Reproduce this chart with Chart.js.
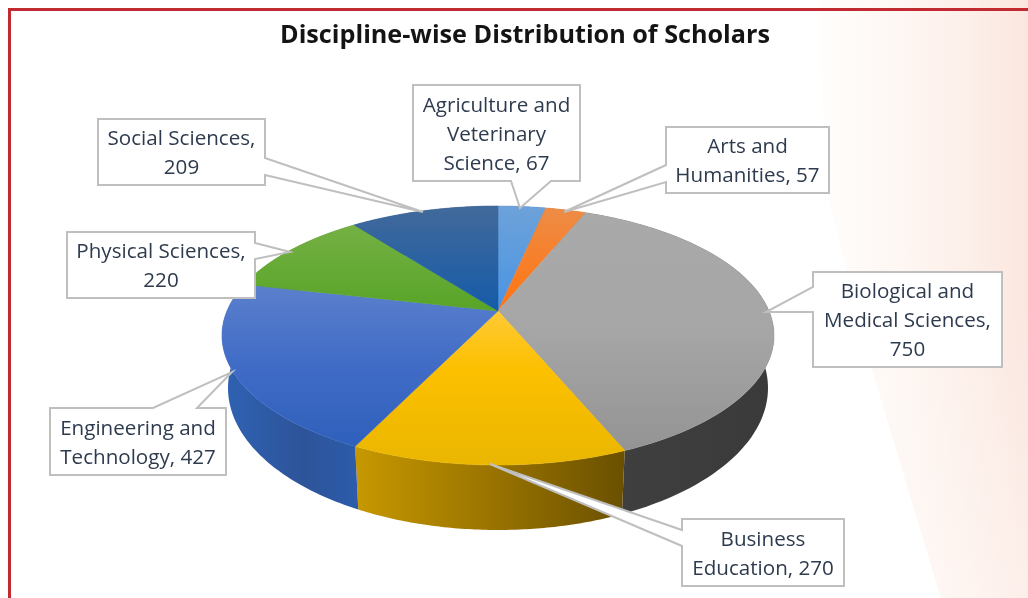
<!DOCTYPE html>
<html>
<head>
<meta charset="utf-8">
<script src="https://cdn.jsdelivr.net/npm/chart.js@4/dist/chart.umd.min.js"></script>
<style>
html,body{margin:0;padding:0;background:#fff;width:1028px;height:598px;overflow:hidden}
#tint{position:absolute;left:0;top:0;width:1028px;height:598px;
  background:linear-gradient(180deg,rgba(255,255,255,0) 0,rgba(255,255,255,0) 300px,rgba(255,255,255,.35) 598px),
             linear-gradient(90deg,#fffefd 0,#fffefd 815px,#fef7f3 900px,#fdf0ea 960px,#fbe6df 1028px);
  clip-path:polygon(818px 0,826px 190px,872px 370px,941px 598px,1028px 598px,1028px 0)}
#top{position:absolute;left:8px;top:8px;right:0;height:3px;background:#c12a30}
#left{position:absolute;left:8px;top:8px;bottom:0;width:3px;background:#c12a30}
canvas{position:absolute;left:0;top:0}
</style>
</head>
<body>
<div id="tint"></div><div id="top"></div><div id="left"></div>
<canvas id="c" width="1028" height="598"></canvas>
<script>
const categories = ["Agriculture and Veterinary Science","Arts and Humanities","Biological and Medical Sciences","Business Education","Engineering and Technology","Physical Sciences","Social Sciences"];
const scholars = [67,57,750,270,427,220,209];
const labelLines = [
  ["Agriculture and","Veterinary","Science, 67"],
  ["Arts and","Humanities, 57"],
  ["Biological and","Medical Sciences,","750"],
  ["Business","Education, 270"],
  ["Engineering and","Technology, 427"],
  ["Physical Sciences,","220"],
  ["Social Sciences,","209"]
];
const baseColors = ["#5B9BD5","#ED7D31","#A5A5A5","#FFC000","#4472C4","#70AD47","#255E91"];
const titleText = "Discipline-wise Distribution of Scholars";

// styling and layout only
const faceStops = [
  [[206,"#6da2d9"],[310,"#4a94e4"]],
  [[210,"#ee8b45"],[310,"#ff7410"]],
  [[215,"#a9a9a9"],[330,"#a6a6a6"],[455,"#939393"]],
  [[312,"#ffc933"],[370,"#fcc000"],[465,"#eab600"]],
  [[288,"#5a7fcc"],[370,"#3f6bc6"],[445,"#2f60bb"]],
  [[228,"#74b043"],[310,"#58a428"]],
  [[208,"#41699b"],[312,"#155ba9"]]
];
const sideStops = [
  [[0,"#3c6ea0"],[1,"#3c6ea0"]],
  [[0,"#a05a20"],[1,"#a05a20"]],
  [[0,"#3f3f3f"],[1,"#3a3a3a"]],
  [[0,"#c79800"],[0.5,"#9a7400"],[1,"#6a5000"]],
  [[0,"#2f62b4"],[0.6,"#2d5499"],[1,"#2c5cab"]],
  [[0,"#4a7a2c"],[1,"#4a7a2c"]],
  [[0,"#1c4570"],[1,"#1c4570"]]
];
const callouts = [
  {box:[413,85,167,96], tail:[[511,181],[520,208],[551,181]]},
  {box:[666,127,163,66], tail:[[666,165],[564,212],[666,182]]},
  {box:[813,272,189,95], tail:[[813,287],[766,312],[813,312]]},
  {box:[682,519,162,67], tail:[[682,530],[490,464],[682,546]]},
  {box:[50,408,176,67], tail:[[153,408],[232,372],[197,408]]},
  {box:[67,232,188,66], tail:[[255,243],[290,252],[255,259]]},
  {box:[98,119,167,66], tail:[[265,158],[423,212],[265,175]]}
];
const view = {cx:498, top:{rx:276, ry:129.5}, bottom:{rx:270, ry:142, cy:388}, skew:-0.19};

function project(angle, arc, ell){
  const u = Math.cos(angle), v = Math.sin(angle), c = view.skew, d = 1 + c*v;
  const cy = ell.cy !== undefined ? ell.cy : arc.y;
  return [view.cx + ell.rx*u*Math.sqrt(1-c*c)/d, cy + ell.ry*(v+c)/d];
}
function center(arc){
  const c = view.skew;
  return [view.cx, arc.y + view.top.ry*c];
}
function gradient(ctx, stops, y0, y1){
  const g = ctx.createLinearGradient(0,y0,0,y1);
  stops.forEach(s=>g.addColorStop((s[0]-y0)/(y1-y0),s[1]));
  return g;
}
function arcPts(arc, ell, n){
  const pts=[];
  for(let i=0;i<=n;i++){
    const a = arc.startAngle + (arc.endAngle-arc.startAngle)*i/n;
    pts.push(project(a,arc,ell));
  }
  return pts;
}
const pie3d = {
  id:'pie3d',
  beforeDatasetsDraw(chart){
    const ctx = chart.ctx;
    chart.getDatasetMeta(0).data.forEach((arc,i)=>{
      const t = arcPts(arc,view.top,80), b = arcPts(arc,view.bottom,80);
      const xs = t.concat(b).map(p=>p[0]);
      const ys = t.concat(b).filter(p=>p[1]>330).map(p=>p[0]);
      const x0 = Math.min.apply(null,ys.length?ys:xs), x1 = Math.max.apply(null,ys.length?ys:xs);
      const g = ctx.createLinearGradient(x0,0,x1+0.01,0);
      sideStops[i].forEach(s=>g.addColorStop(s[0],s[1]));
      ctx.save();
      ctx.beginPath();
      t.forEach((p,k)=>k?ctx.lineTo(p[0],p[1]):ctx.moveTo(p[0],p[1]));
      b.reverse().forEach(p=>ctx.lineTo(p[0],p[1]));
      ctx.closePath();
      ctx.fillStyle=g; ctx.fill();
      ctx.restore();
    });
  },
  beforeDatasetDraw(chart){
    const ctx = chart.ctx;
    chart.getDatasetMeta(0).data.forEach((arc,i)=>{
      const t = arcPts(arc,view.top,80), o = center(arc);
      const st = faceStops[i];
      const g = gradient(ctx,st,st[0][0],st[st.length-1][0]);
      ctx.save();
      ctx.beginPath();
      ctx.moveTo(o[0],o[1]);
      t.forEach(p=>ctx.lineTo(p[0],p[1]));
      ctx.closePath();
      ctx.fillStyle=g; ctx.strokeStyle=g; ctx.lineWidth=0.6;
      ctx.fill(); ctx.stroke();
      ctx.restore();
    });
    return false;
  },
  afterDatasetsDraw(chart){
    const ctx = chart.ctx;
    ctx.save();
    callouts.forEach((c,i)=>{
      const [x,y,w,h]=c.box, [p,q,r]=c.tail;
      let outline;
      if(p[0]===x && r[0]===x)          outline=[[x,y],[x+w,y],[x+w,y+h],[x,y+h],r,q,p];
      else if(p[0]===x+w && r[0]===x+w) outline=[[x,y],[x+w,y],p,q,r,[x+w,y+h],[x,y+h]];
      else if(p[1]===y+h && r[1]===y+h) outline=[[x,y],[x+w,y],[x+w,y+h],r,q,p,[x,y+h]];
      else                              outline=[[x,y],p,q,r,[x+w,y],[x+w,y+h],[x,y+h]];
      ctx.beginPath();
      outline.forEach((pt,k)=>k?ctx.lineTo(pt[0],pt[1]):ctx.moveTo(pt[0],pt[1]));
      ctx.closePath();
      ctx.fillStyle='#fff'; ctx.fill();
      ctx.strokeStyle='#bfbfbf'; ctx.lineWidth=2; ctx.lineJoin='miter'; ctx.stroke();
      ctx.fillStyle='#2e3b4e';
      ctx.font='20.6px "Open Sans"';
      ctx.textAlign='center'; ctx.textBaseline='middle';
      const ls=labelLines[i], lh=29;
      ls.forEach((s,k)=>ctx.fillText(s,x+w/2,y+h/2+2+(k-(ls.length-1)/2)*lh));
    });
    ctx.restore();
  }
};
new Chart(document.getElementById('c'),{
  type:'pie',
  data:{labels:categories,datasets:[{data:scholars,backgroundColor:baseColors,borderWidth:0}]},
  plugins:[pie3d],
  options:{
    responsive:false,
    animation:false,
    layout:{padding:{left:249,right:227,top:0,bottom:133}},
    plugins:{
      legend:{display:false},
      tooltip:{enabled:false},
      title:{display:true,text:titleText,color:'#141414',
        font:{family:'"Open Sans"',size:25.2,weight:'bold',lineHeight:1.25},
        padding:{top:20,bottom:154.5}}
    }
  }
});
</script>
</body>
</html>
